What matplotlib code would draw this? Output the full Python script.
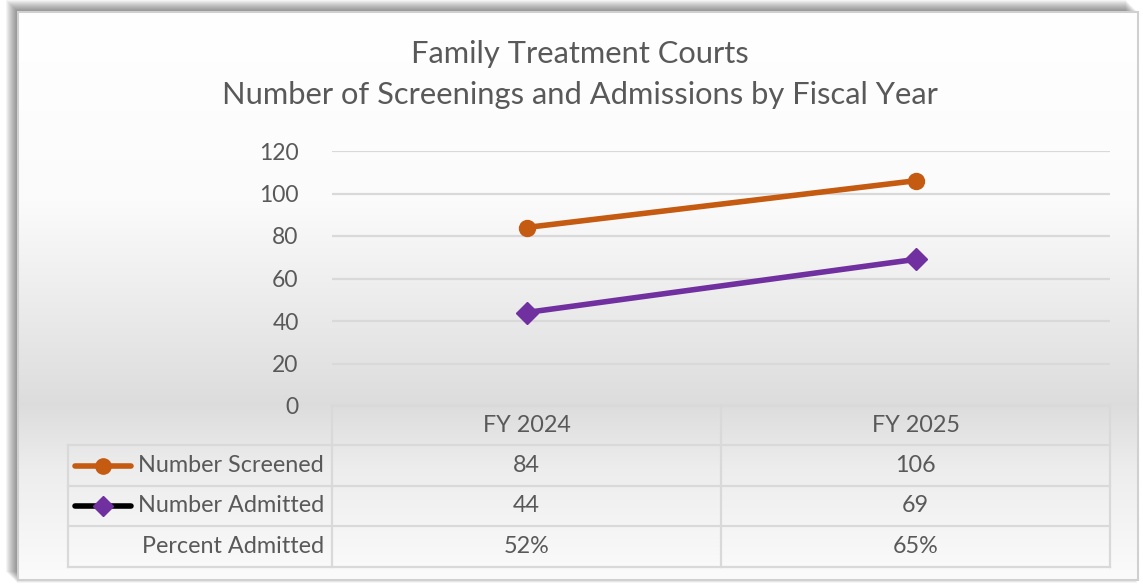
import numpy as np
import matplotlib
matplotlib.use("Agg")
import matplotlib.pyplot as plt

plt.rcParams['font.family'] = ['Lato', 'DejaVu Sans']

# ---- data ----
categories = ["FY 2024", "FY 2025"]
screened = [84, 106]
admitted = [44, 69]
percent_admitted = ["52%", "65%"]
series_names = ["Number Screened", "Number Admitted", "Percent Admitted"]
title_lines = ["Family Treatment Courts", "Number of Screenings and Admissions by Fiscal Year"]
yticks = [0, 20, 40, 60, 80, 100, 120]

W, H = 1143, 585
fig = plt.figure(figsize=(W / 100, H / 100), dpi=100)
fig.patch.set_facecolor("white")

ORANGE = "#C55A11"
PURPLE = "#7030A0"
GRID = "#d9d9d9"
TXT = "#595959"

# ---- background / frame overlay (pixel coords) ----
bg = fig.add_axes([0, 0, 1, 1], zorder=0)
bg.set_xlim(0, W)
bg.set_ylim(H, 0)
bg.axis("off")
for i in range(12):
    off = 12 - i
    bg.add_patch(plt.Rectangle((18 - off, 12 - off), 1120, 572, facecolor="black",
                               alpha=0.045, edgecolor="none"))
ys = np.arange(12, 581)
stops_y = [12, 200, 405, 470, 580]
stops_v = [1.0, 0.985, 0.865, 0.93, 0.985]
vals = np.interp(ys, stops_y, stops_v)
grad = np.repeat(vals[:, None], 2, axis=1)
bg.imshow(np.dstack([grad, grad, grad]), extent=(18, 1138, 580, 12), aspect="auto",
          interpolation="bilinear", zorder=1)
bg.add_patch(plt.Rectangle((18, 12), 1120, 568, facecolor="none", edgecolor="#d0d0d0",
                           linewidth=1.5, zorder=2))

# ---- main chart axes ----
px_left, px_right, px_top, px_bot = 332, 1110, 151, 406
ax = fig.add_axes([px_left / W, 1 - px_bot / H, (px_right - px_left) / W, (px_bot - px_top) / H],
                  zorder=2)
ax.patch.set_alpha(0)
x = np.arange(len(categories))
ax.set_xlim(-0.5, len(categories) - 0.5)
ax.set_ylim(0, 120)
ax.set_yticks(yticks)
ax.set_yticklabels([str(v) for v in yticks], fontsize=16.5, color=TXT)
ax.tick_params(axis="y", length=0, pad=24)
ax.set_xticks([])
for s in ax.spines.values():
    s.set_visible(False)
ax.yaxis.grid(True, color=GRID, linewidth=1.6)
ax.set_axisbelow(True)

ax.plot(x, screened, color=ORANGE, linewidth=4.0, marker="o", markersize=11.5,
        solid_capstyle="round", zorder=3, clip_on=False)
ax.plot(x, admitted, color=PURPLE, linewidth=4.0, marker="D", markersize=11.5,
        solid_capstyle="round", zorder=3, clip_on=False)

fig.text(0.5075, 1 - 54 / H, title_lines[0], ha="center", va="center", fontsize=22.2, color=TXT)
fig.text(0.5075, 1 - 95 / H, title_lines[1], ha="center", va="center", fontsize=22.2, color=TXT)

# ---- data table (drawn in pixel-coord overlay) ----
tb = fig.add_axes([0, 0, 1, 1], zorder=3)
tb.set_xlim(0, W)
tb.set_ylim(H, 0)
tb.axis("off")
tb.patch.set_alpha(0)
lc = "#d9d9d9"
lw = 1.6
rows_y = [406, 445, 486, 526, 567]
tbl_left = 68
col_w = (px_right - px_left) / len(categories)
col_edges = [px_left + i * col_w for i in range(len(categories) + 1)]
tb.plot([col_edges[0], col_edges[-1]], [rows_y[0]] * 2, color=lc, lw=lw)
for yy in rows_y[1:]:
    tb.plot([tbl_left, col_edges[-1]], [yy, yy], color=lc, lw=lw)
for xe in col_edges:
    tb.plot([xe, xe], [rows_y[0], rows_y[-1]], color=lc, lw=lw)
tb.plot([tbl_left, tbl_left], [rows_y[1], rows_y[-1]], color=lc, lw=lw)

fs = 16.8
for i, c in enumerate(categories):
    cx = px_left + (i + 0.5) * col_w
    tb.text(cx, (rows_y[0] + rows_y[1]) / 2, c, ha="center", va="center", fontsize=fs, color=TXT)
    tb.text(cx, (rows_y[1] + rows_y[2]) / 2, str(screened[i]), ha="center", va="center", fontsize=fs, color=TXT)
    tb.text(cx, (rows_y[2] + rows_y[3]) / 2, str(admitted[i]), ha="center", va="center", fontsize=fs, color=TXT)
    tb.text(cx, (rows_y[3] + rows_y[4]) / 2, percent_admitted[i], ha="center", va="center", fontsize=fs, color=TXT)

label_right = 324
for r, name in enumerate(series_names):
    yc = (rows_y[r + 1] + rows_y[r + 2]) / 2
    tb.text(label_right, yc, name, ha="right", va="center", fontsize=fs, color=TXT)

k1 = (rows_y[1] + rows_y[2]) / 2
tb.plot([75, 131], [k1, k1], color=ORANGE, lw=4.0, solid_capstyle="round")
tb.plot([103], [k1], marker="o", color=ORANGE, markersize=11)
k2 = (rows_y[2] + rows_y[3]) / 2
tb.plot([75, 131], [k2, k2], color="black", lw=4.0, solid_capstyle="round")
tb.plot([103], [k2], marker="D", color=PURPLE, markersize=10)

fig.savefig("out.png", dpi=100)
